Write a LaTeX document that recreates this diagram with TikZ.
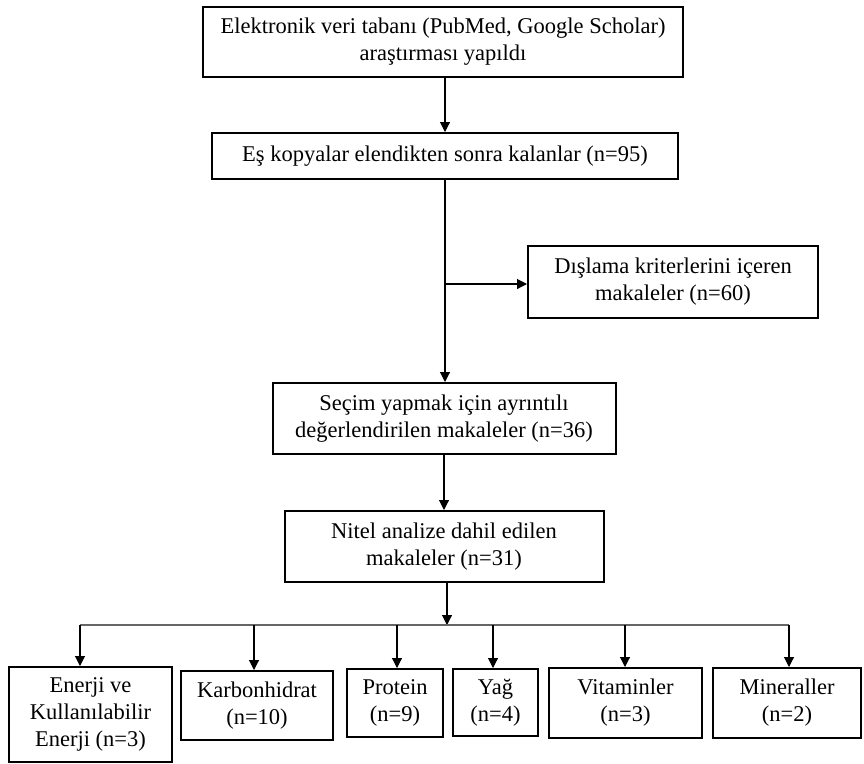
\documentclass[tikz,border=0pt]{standalone}
\usepackage{fontspec}
\setmainfont{Liberation Serif}
\usetikzlibrary{arrows.meta}
\tikzset{
  box/.style={draw,line width=2pt,inner sep=0pt,align=center,
    font=\fontsize{22.5}{27}\selectfont},
  link/.style={line width=1.1pt}
}
\begin{document}
\begin{tikzpicture}[x=1pt,y=-1pt,>={Triangle[length=10pt,width=10pt]}]
 \useasboundingbox (0,0) rectangle (864,763);
 % main column
 \node[box,minimum width=480,minimum height=70] (search) at (443,42)
   {Elektronik veri tabanı (PubMed, Google Scholar)\\araştırması yapıldı};
 \node[box,minimum width=466,minimum height=46] (dup) at (445,156)
   {Eş kopyalar elendikten sonra kalanlar (n=95)};
 \node[box,minimum width=290,minimum height=72] (excl) at (673,282)
   {Dışlama kriterlerini içeren\\makaleler (n=60)};
 \node[box,minimum width=343,minimum height=71] (select) at (444,418.5)
   {Seçim yapmak için ayrıntılı\\değerlendirilen makaleler (n=36)};
 \node[box,minimum width=319,minimum height=71] (qual) at (444,546.5)
   {Nitel analize dahil edilen\\makaleler (n=31)};
 % categories
 \node[box,minimum width=163,minimum height=95] (energy) at (90.5,714.5)
   {Enerji ve\\Kullanılabilir\\Enerji (n=3)};
 \node[box,minimum width=152,minimum height=69] (carb) at (257,705.5)
   {Karbonhidrat\\(n=10)};
 \node[box,minimum width=96,minimum height=68] (prot) at (395,703)
   {Protein\\(n=9)};
 \node[box,minimum width=85,minimum height=67] (fat) at (495.5,702.5)
   {Yağ\\(n=4)};
 \node[box,minimum width=153,minimum height=70] (vit) at (625.5,703)
   {Vitaminler\\(n=3)};
 \node[box,minimum width=148,minimum height=70] (min) at (787,703)
   {Mineraller\\(n=2)};
 \coordinate (branch) at (445,284);
 \coordinate (hub) at (447,625);
 \coordinate (hubL) at (80,625);
 \coordinate (hubR) at (789,625);
 % connectors
 \draw[link,->] (search.south -| dup.north) -- (dup.north);
 \draw[link,->] (dup.south) -- (dup.south |- select.north);
 \draw[link,->] (branch) -- (branch -| excl.west);
 \draw[link,->] (select.south) -- (select.south |- qual.north);
 \draw[link,->] (qual.south -| hub) -- (hub);
 \draw[link,black!60] (hubL) -- (hubR);
 \foreach \n/\x in {energy/80,carb/254,prot/397,fat/493,vit/625,min/789}
   \draw[link,->] (\x,625) -- (\x,0 |- \n.north);
\end{tikzpicture}
\end{document}
